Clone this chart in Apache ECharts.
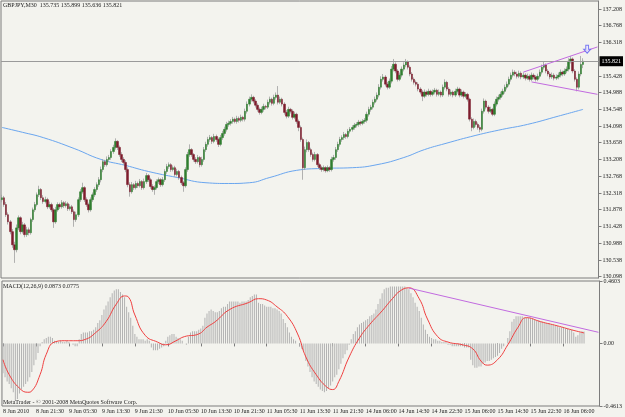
<!DOCTYPE html>
<html>
<head>
<meta charset="utf-8">
<script src="https://cdn.jsdelivr.net/npm/echarts@6/dist/echarts.min.js"></script>
<style>
  html, body { margin: 0; padding: 0; background: #f3f3ee; }
  #chart { width: 625px; height: 417px; }
</style>
</head>
<body>
<div id="chart"></div>
<script>
// GBPJPY M30 bars
var opens = [
  132.14,132.19,132.01,131.74,131.55,131.29,130.94,130.81,131.39,131.66,
  131.29,131.47,131.21,131.34,131.26,131.61,131.87,132.01,132.27,132.41,
  132.19,132.09,132.14,131.95,132.01,131.87,131.55,131.87,132.01,131.95,
  132.06,131.98,132.03,131.90,131.95,131.82,131.61,131.74,132.14,132.35,
  132.46,132.14,132.01,131.87,132.14,132.27,132.41,132.54,132.67,132.94,
  133.15,133.07,133.21,133.26,133.42,133.53,133.69,133.53,133.34,133.21,
  133.13,132.94,132.54,132.35,132.54,132.46,132.57,132.51,132.62,132.46,
  132.62,132.78,132.67,132.49,132.41,132.46,132.62,132.67,132.54,132.67,
  132.89,133.02,133.07,132.94,132.99,132.81,132.89,132.73,132.59,132.51,
  132.94,133.34,133.47,133.34,133.21,133.15,133.26,133.07,133.21,133.47,
  133.61,133.74,133.79,133.69,133.82,133.74,133.61,133.79,133.90,134.01,
  134.14,134.17,134.22,134.28,134.22,134.30,134.25,134.33,134.28,134.49,
  134.68,134.81,134.86,134.76,134.65,134.54,134.46,134.54,134.62,134.60,
  134.73,134.81,134.70,134.86,134.92,134.73,134.81,134.68,134.46,134.36,
  134.54,134.49,134.33,134.41,134.22,134.06,133.74,132.99,133.47,133.66,
  133.47,133.34,133.21,133.34,133.07,132.99,132.94,132.99,132.91,132.99,
  132.94,133.21,133.26,133.47,133.61,133.74,133.79,133.87,133.82,133.96,
  134.01,134.06,134.12,134.14,134.20,134.17,134.22,134.25,134.41,134.54,
  134.60,134.73,134.81,134.92,135.13,135.34,135.40,135.21,135.13,135.29,
  135.61,135.74,135.56,135.34,135.45,135.61,135.72,135.80,135.66,135.48,
  135.34,135.26,135.21,135.08,135.00,134.89,135.00,134.94,135.02,134.94,
  135.00,135.05,134.94,135.00,134.92,135.13,135.26,135.08,134.94,135.00,
  134.92,135.02,135.08,134.92,135.00,134.89,134.94,134.81,134.28,134.06,
  134.22,134.14,134.06,134.01,134.49,134.76,134.60,134.49,134.54,134.41,
  134.68,134.81,134.86,134.94,135.02,135.13,135.21,135.34,135.45,135.53,
  135.48,135.42,135.50,135.40,135.45,135.37,135.42,135.34,135.45,135.40,
  135.34,135.42,135.53,135.66,135.72,135.56,135.48,135.40,135.45,135.37,
  135.40,135.45,135.53,135.48,135.56,135.61,135.82,135.88,135.56,135.34,
  135.13,135.48,135.735
];
var closes = [
  132.19,132.01,131.74,131.55,131.29,130.94,130.81,131.39,131.66,131.29,
  131.47,131.21,131.34,131.26,131.61,131.87,132.01,132.27,132.41,132.19,
  132.09,132.14,131.95,132.01,131.87,131.55,131.87,132.01,131.95,132.06,
  131.98,132.03,131.90,131.95,131.82,131.61,131.74,132.14,132.35,132.46,
  132.14,132.01,131.87,132.14,132.27,132.41,132.54,132.67,132.94,133.15,
  133.07,133.21,133.26,133.42,133.53,133.69,133.53,133.34,133.21,133.13,
  132.94,132.54,132.35,132.54,132.46,132.57,132.51,132.62,132.46,132.62,
  132.78,132.67,132.49,132.41,132.46,132.62,132.67,132.54,132.67,132.89,
  133.02,133.07,132.94,132.99,132.81,132.89,132.73,132.59,132.51,132.94,
  133.34,133.47,133.34,133.21,133.15,133.26,133.07,133.21,133.47,133.61,
  133.74,133.79,133.69,133.82,133.74,133.61,133.79,133.90,134.01,134.14,
  134.17,134.22,134.28,134.22,134.30,134.25,134.33,134.28,134.49,134.68,
  134.81,134.86,134.76,134.65,134.54,134.46,134.54,134.62,134.60,134.73,
  134.81,134.70,134.86,134.92,134.73,134.81,134.68,134.46,134.36,134.54,
  134.49,134.33,134.41,134.22,134.06,133.74,132.99,133.47,133.66,133.47,
  133.34,133.21,133.34,133.07,132.99,132.94,132.99,132.91,132.99,132.94,
  133.21,133.26,133.47,133.61,133.74,133.79,133.87,133.82,133.96,134.01,
  134.06,134.12,134.14,134.20,134.17,134.22,134.25,134.41,134.54,134.60,
  134.73,134.81,134.92,135.13,135.34,135.40,135.21,135.13,135.29,135.61,
  135.74,135.56,135.34,135.45,135.61,135.72,135.80,135.66,135.48,135.34,
  135.26,135.21,135.08,135.00,134.89,135.00,134.94,135.02,134.94,135.00,
  135.05,134.94,135.00,134.92,135.13,135.26,135.08,134.94,135.00,134.92,
  135.02,135.08,134.92,135.00,134.89,134.94,134.81,134.28,134.06,134.22,
  134.14,134.06,134.01,134.49,134.76,134.60,134.49,134.54,134.41,134.68,
  134.81,134.86,134.94,135.02,135.13,135.21,135.34,135.45,135.53,135.48,
  135.42,135.50,135.40,135.45,135.37,135.42,135.34,135.45,135.40,135.34,
  135.42,135.53,135.66,135.72,135.56,135.48,135.40,135.45,135.37,135.40,
  135.45,135.53,135.48,135.56,135.61,135.82,135.88,135.56,135.34,135.13,
  135.48,135.735,135.821
];
var highs = [
  132.27,132.24,132.08,131.80,131.60,131.36,131.02,131.48,131.72,131.70,
  131.55,131.52,131.42,131.40,131.66,131.93,132.08,132.33,132.51,132.45,
  132.26,132.22,132.19,132.09,132.06,131.92,131.95,132.07,132.06,132.13,
  132.10,132.10,132.08,132.02,132.00,131.88,131.82,132.20,132.42,132.59,
  132.50,132.20,132.06,132.20,132.33,132.47,132.60,132.74,133.02,133.22,
  133.20,133.29,133.33,133.48,133.60,133.77,133.72,133.58,133.40,133.27,
  133.19,133.00,132.60,132.61,132.58,132.64,132.62,132.69,132.66,132.70,
  132.85,132.82,132.72,132.55,132.52,132.68,132.73,132.71,132.74,132.95,
  133.09,133.13,133.11,133.05,133.04,132.96,132.93,132.78,132.64,133.00,
  133.41,133.61,133.51,133.38,133.27,133.33,133.30,133.28,133.54,133.68,
  133.81,133.86,133.83,133.89,133.87,133.79,133.86,133.97,134.08,134.21,
  134.24,134.28,134.34,134.32,134.37,134.35,134.40,134.37,134.56,134.75,
  134.88,134.94,134.90,134.81,134.70,134.59,134.61,134.69,134.66,134.80,
  134.88,134.85,134.93,134.99,135.16,134.88,134.85,134.73,134.52,134.61,
  134.58,134.54,134.48,134.45,134.27,134.11,133.79,133.55,133.74,133.70,
  133.52,133.39,133.41,133.38,133.12,133.04,133.05,133.03,133.05,133.03,
  133.28,133.33,133.54,133.68,133.81,133.85,133.94,133.91,134.02,134.07,
  134.12,134.18,134.20,134.26,134.24,134.28,134.31,134.48,134.61,134.66,
  134.80,134.88,134.99,135.21,135.42,135.48,135.45,135.27,135.36,135.69,
  135.88,135.79,135.61,135.52,135.68,135.79,135.88,135.84,135.71,135.53,
  135.39,135.31,135.26,135.13,135.05,135.07,135.04,135.09,135.06,135.07,
  135.11,135.09,135.07,135.04,135.20,135.34,135.30,135.13,135.07,135.04,
  135.09,135.14,135.12,135.07,135.04,135.00,134.98,134.85,134.33,134.30,
  134.27,134.19,134.12,134.56,134.83,134.80,134.65,134.61,134.58,134.75,
  134.88,134.93,135.01,135.09,135.20,135.28,135.41,135.52,135.60,135.58,
  135.54,135.57,135.55,135.52,135.50,135.49,135.47,135.52,135.50,135.45,
  135.49,135.60,135.73,135.80,135.76,135.61,135.53,135.52,135.50,135.47,
  135.52,135.60,135.57,135.63,135.68,135.90,135.96,135.92,135.61,135.39,
  135.55,135.96,135.899
];
var lows = [
  132.07,131.95,131.68,131.48,131.22,130.86,130.46,130.74,131.33,131.22,
  131.24,131.14,131.15,131.19,131.21,131.55,131.81,131.96,132.21,132.13,
  132.03,132.04,131.89,131.90,131.81,131.39,131.50,131.82,131.89,131.90,
  131.92,131.93,131.84,131.85,131.76,131.42,131.55,131.68,132.08,132.30,
  132.08,131.95,131.80,131.82,132.08,132.21,132.35,132.48,132.60,132.87,
  133.01,133.02,133.15,133.20,133.36,133.47,133.46,133.28,133.14,133.07,
  132.87,132.47,132.22,132.30,132.40,132.41,132.45,132.46,132.40,132.41,
  132.56,132.61,132.43,132.35,132.27,132.41,132.56,132.48,132.49,132.61,
  132.83,132.96,132.88,132.89,132.75,132.76,132.67,132.53,132.35,132.46,
  132.88,133.28,133.28,133.15,133.09,133.10,133.00,133.02,133.15,133.41,
  133.55,133.68,133.62,133.64,133.68,133.54,133.56,133.73,133.84,133.95,
  134.08,134.11,134.16,134.17,134.16,134.19,134.20,134.22,134.22,134.43,
  134.62,134.75,134.70,134.59,134.48,134.40,134.41,134.48,134.54,134.55,
  134.67,134.64,134.65,134.80,134.67,134.68,134.62,134.40,134.30,134.31,
  134.43,134.27,134.28,134.16,133.96,133.68,132.67,132.93,133.40,133.41,
  133.28,133.15,133.16,133.01,132.93,132.88,132.89,132.86,132.87,132.88,
  132.89,133.15,133.20,133.41,133.55,133.68,133.73,133.76,133.77,133.90,
  133.95,134.00,134.06,134.08,134.11,134.12,134.16,134.19,134.35,134.48,
  134.54,134.67,134.75,134.86,135.07,135.28,135.15,135.07,135.08,135.23,
  135.55,135.50,135.28,135.29,135.39,135.55,135.66,135.60,135.42,135.28,
  135.20,135.15,135.02,134.94,134.76,134.84,134.88,134.89,134.88,134.89,
  134.94,134.88,134.89,134.86,134.87,135.07,135.02,134.88,134.89,134.86,
  134.87,134.96,134.86,134.87,134.83,134.84,134.75,134.22,133.96,134.01,
  134.08,134.00,133.93,133.96,134.43,134.54,134.43,134.44,134.36,134.36,
  134.62,134.75,134.80,134.88,134.96,135.07,135.15,135.28,135.39,135.42,
  135.36,135.37,135.34,135.35,135.31,135.32,135.28,135.29,135.34,135.28,
  135.29,135.36,135.47,135.60,135.50,135.42,135.34,135.35,135.31,135.32,
  135.34,135.39,135.42,135.43,135.50,135.55,135.76,135.50,135.28,135.02,
  135.07,135.42,135.636
];
// moving average, read at a few bars: [bar, price]
var maPoints = [
  [0,134.06],[10,133.93],[20,133.79],[35,133.50],[48,133.21],[60,133.05],
  [71,132.89],[85,132.73],[99,132.59],[110,132.57],[120,132.59],[130,132.73],
  [143,132.92],[155,132.97],[170,132.99],[182,133.07],[195,133.26],[205,133.47],
  [215,133.63],[230,133.85],[243,134.01],[255,134.14],[270,134.36],[282,134.54]
];
// MACD(12,26,9) main, one value per bar
var macdMain = [
  -0.22,-0.25,-0.28,-0.30,-0.33,-0.36,-0.42,-0.41,-0.37,-0.34,
  -0.32,-0.30,-0.28,-0.25,-0.21,-0.16,-0.12,-0.07,-0.02,0.01,
  0.03,0.04,0.05,0.05,0.04,0.02,0.01,0.01,0.02,0.01,
  0.01,0.02,0.01,0.00,-0.01,-0.02,-0.02,0.03,0.07,0.08,
  0.08,0.08,0.09,0.09,0.10,0.12,0.15,0.17,0.21,0.25,
  0.28,0.31,0.34,0.37,0.39,0.40,0.40,0.38,0.36,0.34,
  0.27,0.23,0.19,0.13,0.07,0.05,0.03,0.03,0.03,0.02,
  0.03,0.02,-0.03,-0.05,-0.05,-0.05,-0.04,-0.03,-0.02,0.02,
  0.05,0.06,0.07,0.07,0.05,0.04,0.03,0.02,0.00,-0.01,
  0.05,0.08,0.09,0.09,0.09,0.10,0.11,0.13,0.19,0.22,
  0.24,0.25,0.24,0.23,0.23,0.24,0.26,0.27,0.27,0.29,
  0.31,0.31,0.31,0.31,0.31,0.30,0.31,0.31,0.31,0.32,
  0.34,0.35,0.36,0.36,0.30,0.29,0.29,0.28,0.27,0.27,
  0.27,0.26,0.26,0.25,0.24,0.22,0.18,0.15,0.12,0.08,
  0.05,0.03,0.02,0.00,-0.02,-0.04,-0.06,-0.13,-0.17,-0.21,
  -0.25,-0.28,-0.30,-0.32,-0.34,-0.35,-0.36,-0.35,-0.33,-0.31,
  -0.28,-0.25,-0.23,-0.19,-0.15,-0.11,-0.08,-0.05,-0.01,0.03,
  0.07,0.09,0.12,0.14,0.15,0.16,0.17,0.18,0.20,0.21,
  0.22,0.25,0.29,0.33,0.37,0.40,0.41,0.41,0.42,0.42,
  0.42,0.42,0.42,0.42,0.42,0.42,0.41,0.40,0.37,0.34,
  0.30,0.27,0.24,0.19,0.14,0.10,0.07,0.05,0.04,0.03,
  0.03,0.02,0.02,0.01,0.01,0.01,-0.01,-0.01,-0.02,-0.02,
  -0.02,-0.02,-0.02,-0.02,-0.03,-0.03,-0.03,-0.12,-0.16,-0.18,
  -0.18,-0.17,-0.17,-0.15,-0.14,-0.13,-0.13,-0.12,-0.11,-0.10,
  -0.09,-0.07,-0.04,-0.02,0.00,0.04,0.09,0.16,0.18,0.20,
  0.20,0.20,0.20,0.19,0.19,0.19,0.19,0.18,0.18,0.17,
  0.17,0.16,0.16,0.15,0.15,0.15,0.14,0.14,0.13,0.13,
  0.12,0.12,0.12,0.11,0.11,0.10,0.10,0.08,0.05,0.06,
  0.08,0.09,0.0873
];
// signal line, read at a few bars: [bar, value]
var signalPoints = [
  [0,-0.12],[3,-0.23],[8,-0.33],[12,-0.36],[14,-0.35],[18,-0.23],[21,-0.08],
  [25,0.01],[30,0.02],[36,0.02],[40,0.03],[45,0.08],[50,0.16],[55,0.29],
  [59,0.35],[61,0.34],[64,0.21],[69,0.06],[75,0.01],[79,-0.01],[84,0.02],
  [88,0.05],[95,0.07],[99,0.12],[103,0.16],[110,0.25],[119,0.30],[124,0.33],
  [128,0.32],[133,0.27],[138,0.20],[143,0.07],[147,-0.10],[152,-0.23],
  [157,-0.32],[160,-0.34],[163,-0.28],[168,-0.10],[173,0.04],[178,0.14],
  [184,0.24],[189,0.33],[193,0.39],[197,0.41],[202,0.33],[206,0.18],
  [211,0.05],[216,0.01],[223,-0.01],[228,-0.04],[232,-0.13],[235,-0.16],
  [240,-0.12],[245,-0.01],[250,0.12],[254,0.19],[261,0.16],[269,0.13],
  [276,0.10],[282,0.0775]
];
// hand-drawn trend lines: [bar, value]
var channelTop = [[253,135.53],[289,136.20]];
var channelBottom = [[257,135.27],[289,134.94]];
var macdTrend = [[197,0.408],[289,0.082]];
var arrowMark = [[284,136.14]];

var timeLabels = ['8 Jun 2010','8 Jun 21:30','9 Jun 05:30','9 Jun 13:30','9 Jun 21:30',
  '10 Jun 05:30','10 Jun 13:30','10 Jun 21:30','11 Jun 05:30','11 Jun 13:30',
  '11 Jun 21:30','14 Jun 06:00','14 Jun 14:30','14 Jun 22:30','15 Jun 06:00',
  '15 Jun 14:30','15 Jun 22:30','16 Jun 06:00'];
var priceTicks = [130.098,130.538,130.988,131.428,131.878,132.318,132.768,133.208,
  133.658,134.098,134.548,134.988,135.428,136.318,136.768,137.208];
var macdTicks = [-0.4613,0,0.4603];
var bidPrice = 135.821;

var slots = 290;   // bars plus the empty space on the right
var labelStep = 16;
var categories = [];
for (var i = 0; i < slots; i++) {
  var k = i / labelStep;
  categories.push(i % labelStep === 0 && k < timeLabels.length ? timeLabels[k] : '');
}

var wicks = [], bodies = [];
for (var i = 0; i < closes.length; i++) {
  wicks.push([lows[i], highs[i], lows[i], highs[i]]);
  bodies.push([opens[i], closes[i], Math.min(opens[i], closes[i]), Math.max(opens[i], closes[i])]);
}

var font = 'Liberation Serif';
var gray = '#7c7c7c';
var textStyle = { fontSize: 6, fontWeight: 'normal', color: '#222', fontFamily: font };
var myChart = echarts.init(document.getElementById('chart'));
var option = {
  backgroundColor: '#f3f3ee',
  animation: false,
  title: [
    { text: 'GBPJPY,M30  135.735 135.899 135.636 135.821', left: 3, top: 2, padding: 0, textStyle: textStyle },
    { text: 'MACD(12,26,9) 0.0873 0.0775', left: 3, top: 283, padding: 0, textStyle: textStyle },
    { text: 'MetaTrader - \u00a9 2001-2008 MetaQuotes Software Corp.', left: 3, top: 399, padding: 0, textStyle: textStyle }
  ],
  grid: [
    { left: 1, top: 1, width: 604, height: 277, show: true, borderColor: gray, borderWidth: 1, backgroundColor: 'transparent' },
    { left: 1, top: 281, width: 604, height: 125, show: true, borderColor: gray, borderWidth: 1, backgroundColor: 'transparent' }
  ],
  xAxis: [
    { type: 'category', gridIndex: 0, data: categories, boundaryGap: true,
      axisLine: { show: false }, axisTick: { show: false }, axisLabel: { show: false } },
    { type: 'category', gridIndex: 1, data: categories, boundaryGap: true,
      axisLine: { show: false },
      axisTick: { show: true, length: 3, alignWithLabel: true, lineStyle: { color: gray },
        interval: function (idx, v) { return v !== ''; } },
      axisLabel: { interval: function (idx, v) { return v !== ''; }, align: 'left', margin: 2,
        fontSize: 6, color: '#222', fontFamily: font } }
  ],
  yAxis: [
    { type: 'value', gridIndex: 0, position: 'right', min: 130.058, max: 137.421,
      splitLine: { show: false },
      axisLine: { show: true, lineStyle: { color: gray } },
      axisTick: { show: true, length: 3, customValues: priceTicks, lineStyle: { color: gray } },
      axisLabel: { customValues: priceTicks, margin: 4, fontSize: 6, color: '#222', fontFamily: font,
        formatter: function (v) { return v.toFixed(3); } } },
    { type: 'value', gridIndex: 1, position: 'right', min: -0.4613, max: 0.4603,
      splitLine: { show: false },
      axisLine: { show: true, lineStyle: { color: gray } },
      axisTick: { show: true, length: 3, customValues: macdTicks, lineStyle: { color: gray } },
      axisLabel: { customValues: macdTicks, margin: 4, fontSize: 6, color: '#222', fontFamily: font,
        formatter: function (v) { return v === 0 ? '0.00' : v.toFixed(4); } } }
  ],
  series: [
    { type: 'line', xAxisIndex: 0, yAxisIndex: 0, data: maPoints, smooth: true, symbol: 'none',
      lineStyle: { color: '#6aa6ee', width: 1 }, z: 2 },
    { type: 'candlestick', xAxisIndex: 0, yAxisIndex: 0, data: wicks, barWidth: 1,
      itemStyle: { color: '#a0a0a0', color0: '#a0a0a0', borderColor: '#a0a0a0', borderColor0: '#a0a0a0', borderWidth: 0.8 },
      z: 3 },
    { type: 'candlestick', xAxisIndex: 0, yAxisIndex: 0, data: bodies, barWidth: 2,
      itemStyle: { color: '#2f7d2f', color0: '#7d1c2c', borderColor: '#2f7d2f', borderColor0: '#7d1c2c', borderWidth: 0.5 },
      markLine: { silent: true, symbol: 'none', data: [{ yAxis: bidPrice }],
        lineStyle: { color: '#9a9a9a', width: 1, type: 'solid' },
        label: { show: true, position: 'end', formatter: '135.821', backgroundColor: '#000', color: '#fff',
          fontSize: 6, fontFamily: font, padding: [2, 2], distance: 1 } },
      z: 4 },
    { type: 'line', xAxisIndex: 0, yAxisIndex: 0, data: channelTop, symbol: 'none',
      lineStyle: { color: '#c26be0', width: 1 }, z: 5 },
    { type: 'line', xAxisIndex: 0, yAxisIndex: 0, data: channelBottom, symbol: 'none',
      lineStyle: { color: '#c26be0', width: 1 }, z: 5 },
    { type: 'scatter', xAxisIndex: 0, yAxisIndex: 0, data: arrowMark,
      symbol: 'path://M3,0 L7,0 L7,5 L10,5 L5,10 L0,5 L3,5 Z', symbolSize: [7, 8],
      itemStyle: { color: '#e8e8ff', borderColor: '#5a5af0', borderWidth: 1 }, z: 6 },
    { type: 'bar', xAxisIndex: 1, yAxisIndex: 1, data: macdMain, barWidth: 1,
      itemStyle: { color: '#b2b2b2' }, z: 2 },
    { type: 'line', xAxisIndex: 1, yAxisIndex: 1, data: signalPoints, smooth: true, symbol: 'none',
      lineStyle: { color: '#f04040', width: 1 }, z: 3 },
    { type: 'line', xAxisIndex: 1, yAxisIndex: 1, data: macdTrend, symbol: 'none',
      lineStyle: { color: '#c26be0', width: 1 }, z: 4 }
  ]
};
myChart.setOption(option);
</script>
</body>
</html>
